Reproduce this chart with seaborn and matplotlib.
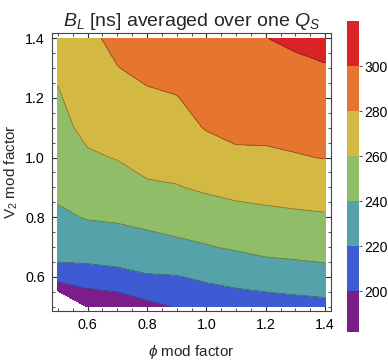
import numpy as np
import pandas as pd
import matplotlib
matplotlib.use("Agg")
import matplotlib.pyplot as plt
import seaborn as sns
from matplotlib.ticker import MultipleLocator, FormatStrFormatter

# ---- data ----
phi_vals = [0.5, 0.6, 0.7, 0.8, 0.9, 1.0, 1.1, 1.2, 1.3, 1.4]
v2_vals = [0.5, 0.6, 0.7, 0.8, 0.9, 1.0, 1.1, 1.2, 1.3, 1.4]
# rows: V2 (0.5 .. 1.4), columns: phi (0.5 .. 1.4)
bl_v05 = [145, 181, 186, 195, 201, 207, 210, 212, 214, 215]
bl_v06 = [211, 212, 214, 218, 219, 223, 226, 228, 229, 231]
bl_v07 = [229, 230, 232, 236, 238, 239, 242, 246, 248, 250]
bl_v08 = [237, 241, 242, 243, 244, 249, 254, 256, 257, 258]
bl_v09 = [244, 249, 250, 258, 259, 263, 265, 266, 268, 270]
bl_v10 = [249, 257, 261, 265, 268, 272, 277, 278, 279, 280.5]
bl_v11 = [253, 266, 268, 271, 274, 281, 284, 283, 285, 287]
bl_v12 = [258, 271, 274, 278, 279.5, 285, 288, 289, 291, 293]
bl_v13 = [263, 275, 279.7, 283, 285, 290, 292, 294, 296, 299]
bl_v14 = [268, 277.5, 283, 288, 290, 294, 296, 299.7, 303.5, 305]
levels = [180, 200, 220, 240, 260, 280, 300, 320]
cbar_ticks = [200, 220, 240, 260, 280, 300]
level_colors = ["#7B1E8A", "#3E5BD3", "#56A2AB", "#8FBD68", "#D3B843", "#E5752F", "#DA2327"]

rows = [bl_v05, bl_v06, bl_v07, bl_v08, bl_v09, bl_v10, bl_v11, bl_v12, bl_v13, bl_v14]
df = pd.DataFrame(rows, index=v2_vals, columns=phi_vals)

sns.set_theme(style="ticks")
plt.rcParams["font.family"] = ["Liberation Sans", "DejaVu Sans"]
plt.rcParams["mathtext.fontset"] = "custom"
plt.rcParams["mathtext.rm"] = "Liberation Sans"
plt.rcParams["mathtext.it"] = "Liberation Sans:italic"

fig = plt.figure(figsize=(3.88, 3.63), dpi=100)
ax = fig.add_axes([52/388, 1-311/363, (331-52)/388, (311-33)/363])

X, Y = np.meshgrid(df.columns.values, df.index.values)
Z = df.values
cs = ax.contourf(X, Y, Z, levels=levels, colors=level_colors)
ax.contour(X, Y, Z, levels=levels[1:-1], colors=[(0.15, 0.15, 0.1, 0.5)], linewidths=0.55)

ax.set_xlim(0.48, 1.42)
ax.set_ylim(0.486, 1.417)
ax.xaxis.set_major_locator(MultipleLocator(0.2))
ax.yaxis.set_major_locator(MultipleLocator(0.2))
ax.xaxis.set_minor_locator(MultipleLocator(0.05))
ax.yaxis.set_minor_locator(MultipleLocator(0.05))
ax.xaxis.set_major_formatter(FormatStrFormatter("%.1f"))
ax.yaxis.set_major_formatter(FormatStrFormatter("%.1f"))
ax.tick_params(which="both", direction="in", top=True, right=True, colors="#333333",
               labelcolor="black", labelsize=10.3)
ax.tick_params(which="major", length=4, width=0.8, pad=5)
ax.tick_params(which="minor", length=2.2, width=0.6)
for s in ax.spines.values():
    s.set_color("#444444")
    s.set_linewidth(0.8)

ax.set_title(r"$B_L$ [ns] averaged over one $Q_S$", fontsize=14, pad=5)
ax.set_xlabel(r"$\phi$ mod factor", fontsize=11, labelpad=8)
ax.set_ylabel(r"V$_2$ mod factor", fontsize=11, labelpad=4)

# colour legend bar
cax = fig.add_axes([347/388, 1-332/363, 12/388, 313/363])
for lo, hi, col in zip(levels[:-1], levels[1:], level_colors):
    cax.axhspan(lo, hi, color=col, lw=0)
cax.set_ylim(182, 321)
cax.set_xlim(0, 1)
cax.set_xticks([])
cax.set_yticks(cbar_ticks)
cax.yaxis.tick_right()
for s in cax.spines.values():
    s.set_visible(False)
cax.tick_params(axis="y", direction="out", length=2.5, width=0.6, labelsize=10, pad=1.5,
                colors="#333333", labelcolor="black")

fig.savefig("out.png", dpi=100)
